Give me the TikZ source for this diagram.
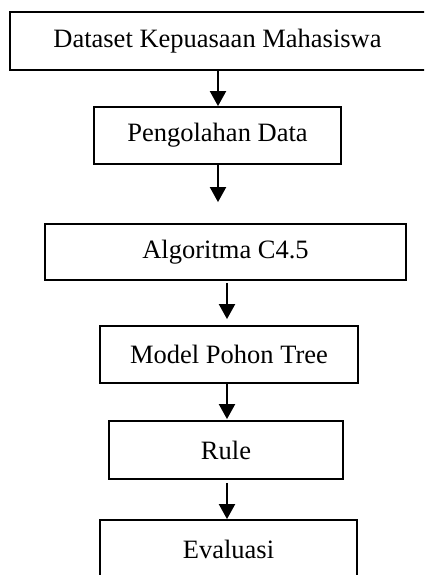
\documentclass[tikz,border=0pt]{standalone}
\usepackage{fontspec}
\setmainfont{Liberation Serif}
\usetikzlibrary{arrows.meta}
\begin{document}
\begin{tikzpicture}[x=1pt,y=-1pt,
  stepbox/.style={draw=black,line width=1.8pt,inner sep=0pt,font=\fontsize{26.5}{30}\selectfont},
  arr/.style={line width=2pt,-{Triangle[length=15pt,width=16pt]}}]
\useasboundingbox (0,0) rectangle (424,575);
\clip (0,0) rectangle (424,575);
\node[stepbox,minimum width=416pt,minimum height=58pt] (b1) at (218,41) {};
\node at (217.5,41) {\fontsize{26.5}{30}\selectfont Dataset Kepuasaan Mahasiswa};
\node[stepbox,minimum width=247pt,minimum height=57pt] (b2) at (217.5,135.5) {Pengolahan Data};
\node[stepbox,minimum width=361pt,minimum height=56pt] (b3) at (225.5,252) {Algoritma C4.5};
\node[stepbox,minimum width=258pt,minimum height=57pt] (b4) at (229,354.5) {Model Pohon Tree};
\node[stepbox,minimum width=234pt,minimum height=58pt] (b5) at (226,450) {Rule};
\node[stepbox,minimum width=257pt,minimum height=58pt] (b6) at (228.5,549) {Evaluasi};
\coordinate (ax) at (218,0);
\coordinate (bx) at (227,0);
\draw[arr] (b1.south -| ax) -- (b2.north -| ax);
\draw[arr,shorten >=21pt] (b2.south -| ax) -- (b3.north -| ax);
\draw[arr,shorten <=2pt,shorten >=6pt] (b3.south -| bx) -- (b4.north -| bx);
\draw[arr,shorten >=1pt] (b4.south -| bx) -- (b5.north -| bx);
\draw[arr,shorten <=3pt] (b5.south -| bx) -- (b6.north -| bx);
\end{tikzpicture}
\end{document}
